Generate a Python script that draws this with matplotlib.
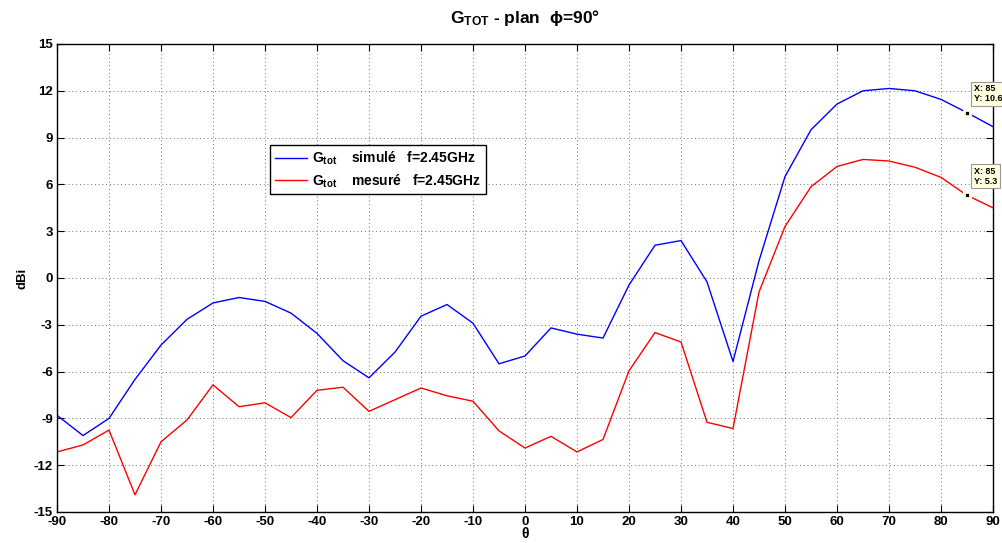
import numpy as np
import matplotlib
matplotlib.use('Agg')
from matplotlib import pyplot as plt

plt.rcParams['font.family'] = ['Liberation Sans', 'DejaVu Sans']
plt.rcParams['font.weight'] = 'bold'
plt.rcParams['mathtext.default'] = 'regular'
plt.rcParams['axes.unicode_minus'] = False

theta = list(range(-90, 95, 5))
g_sim = [-8.8, -10.1, -9.0, -6.5, -4.3, -2.65, -1.6, -1.25, -1.5, -2.25,
         -3.55, -5.3, -6.4, -4.75, -2.45, -1.7, -2.9, -5.5, -5.0, -3.2,
         -3.6, -3.85, -0.45, 2.1, 2.4, -0.25, -5.35, 1.1, 6.5, 9.5,
         11.15, 12.0, 12.15, 12.0, 11.45, 10.6, 9.7]
g_mes = [-11.15, -10.7, -9.75, -13.9, -10.5, -9.1, -6.85, -8.25, -8.0, -8.95,
         -7.2, -7.0, -8.55, -7.8, -7.05, -7.55, -7.9, -9.8, -10.9, -10.15,
         -11.15, -10.35, -5.95, -3.5, -4.1, -9.25, -9.65, -0.9, 3.3, 5.85,
         7.15, 7.6, 7.5, 7.1, 6.45, 5.3, 4.5]
tip_x = 85
tip_sim = 10.6
tip_mes = 5.3

fig = plt.figure(figsize=(10.03, 5.43), dpi=100)
ax = fig.add_axes([57/1003, 1-512/543, 936/1003, 468/543])

ax.plot(theta, g_sim, color='#0000ff', lw=1.0,
        label=r'G$_{tot}$    simulé   f=2.45GHz')
ax.plot(theta, g_mes, color='#ff0000', lw=1.0,
        label=r'G$_{tot}$    mesuré   f=2.45GHz')

ax.set_xlim(-90, 90)
ax.set_ylim(-15, 15)
ax.set_xticks(np.arange(-90, 91, 10))
ax.set_yticks(np.arange(-15, 16, 3))
ax.tick_params(direction='in', top=True, right=True, labelsize=9.5, length=5, pad=3)
for lab in ax.get_xticklabels() + ax.get_yticklabels():
    lab.set_fontweight('bold')
ax.grid(True, color='0.25', linestyle=(0, (1, 3.5)), linewidth=0.6)
for s in ax.spines.values():
    s.set_linewidth(1.0)

ax.set_xlabel('θ', fontsize=10, fontweight='bold', labelpad=-1)
ax.set_ylabel('dBi', fontsize=9.5, fontweight='bold', labelpad=4)
ax.set_title(r'G$_{TOT}$ - plan  ϕ=90°', fontsize=12.5, fontweight='bold', pad=15)

leg = ax.legend(loc='upper left', bbox_to_anchor=(213/936, 1-101/468),
                fancybox=False, edgecolor='black', framealpha=1,
                fontsize=10, handlelength=2.3, handletextpad=0.4,
                borderaxespad=0, labelspacing=0.35, borderpad=0.35)
leg.get_frame().set_linewidth(1.0)

for y in (tip_sim, tip_mes):
    ax.plot([tip_x], [y], marker='s', ms=4, color='black', zorder=5,
            markeredgecolor='#ffffe0', markeredgewidth=2)
    ax.annotate('X: %d\nY: %s' % (tip_x, y), xy=(tip_x, y), xytext=(5, 7),
                textcoords='offset points', fontsize=6.5, fontweight='bold',
                va='bottom', ha='left', annotation_clip=False, linespacing=1.1,
                bbox=dict(boxstyle='square,pad=0.3', fc='#ffffe0', ec='0.6', lw=0.8))

fig.savefig('out.png', dpi=100)
